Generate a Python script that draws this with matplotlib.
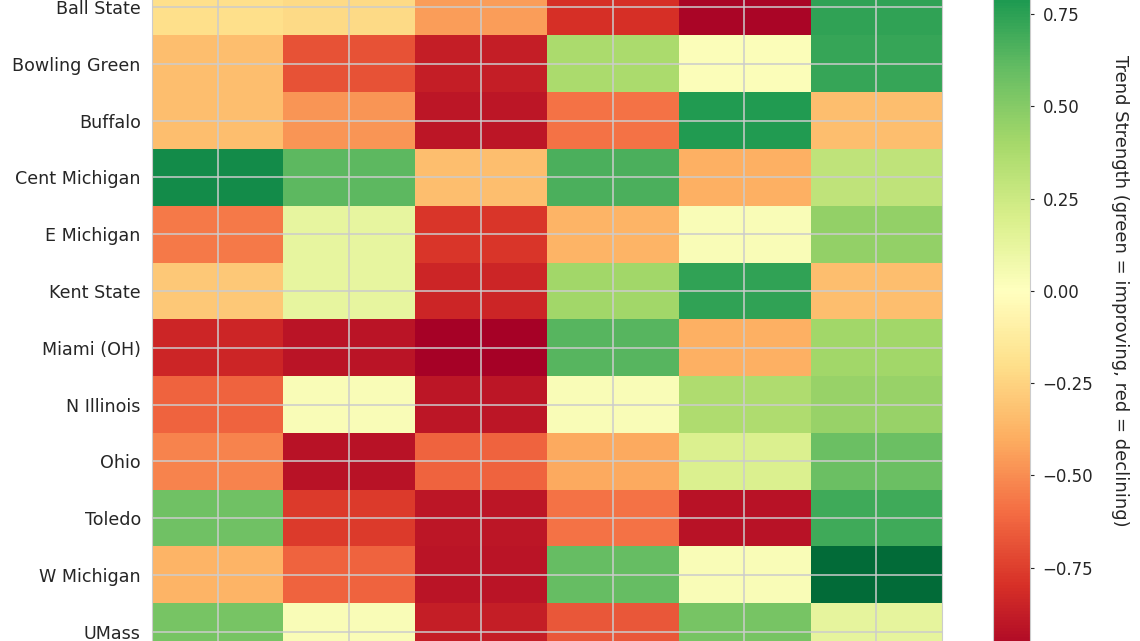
import numpy as np
import matplotlib.pyplot as plt

# MAC programs (rows) and the trend metrics (columns); Akron and the
# metric names sit outside the visible crop of the reference.
teams = ["Akron", "Ball State", "Bowling Green", "Buffalo", "Cent Michigan",
         "E Michigan", "Kent State", "Miami (OH)", "N Illinois", "Ohio",
         "Toledo", "W Michigan", "UMass"]
metrics = ["Win %", "Points For", "Points Against", "Yards/Play",
           "Turnover Margin", "Recruiting"]

trend = np.array([
    [-0.30, -0.45, -0.20, 0.35, -0.60, 0.10],   # Akron
    [-0.20, -0.22, -0.45, -0.80, -0.97, 0.74],  # Ball State
    [-0.33, -0.68, -0.87, 0.38, 0.02, 0.72],    # Bowling Green
    [-0.33, -0.47, -0.90, -0.58, 0.78, -0.33],  # Buffalo
    [0.85, 0.62, -0.33, 0.67, -0.39, 0.30],     # Cent Michigan
    [-0.56, 0.12, -0.78, -0.37, 0.03, 0.46],    # E Michigan
    [-0.29, 0.12, -0.84, 0.41, 0.74, -0.33],    # Kent State
    [-0.84, -0.91, -0.99, 0.64, -0.39, 0.41],   # Miami (OH)
    [-0.63, 0.03, -0.90, 0.03, 0.36, 0.44],     # N Illinois
    [-0.53, -0.92, -0.63, -0.41, 0.18, 0.58],   # Ohio
    [0.57, -0.76, -0.90, -0.58, -0.92, 0.70],   # Toledo
    [-0.37, -0.63, -0.91, 0.60, 0.03, 0.98],    # W Michigan
    [0.54, 0.03, -0.87, -0.67, 0.54, 0.13],     # UMass
])

TEXT = "#262626"
EDGE = "#cccccc"

fig = plt.figure(figsize=(11.4, 6.41), dpi=100)

# heatmap axes deliberately run past the top and bottom of the canvas,
# the metric labels below are out of view just as in the reference crop
ax = fig.add_axes([0.1333, -0.0296, 0.693, 1.1513])
im = ax.imshow(trend, cmap="RdYlGn", vmin=-1, vmax=1, aspect="auto")
ax.set_xticks(range(len(metrics)))
ax.set_yticks(range(len(teams)), teams, fontsize=12.6, color=TEXT)
ax.tick_params(length=0, pad=8, labelbottom=False)
ax.grid(True, color=EDGE, lw=1.1)
for s in ax.spines.values():
    s.set_color(EDGE)

cax = fig.add_axes([0.871, -0.0296, 0.0325, 1.1513])
cb = fig.colorbar(im, cax=cax, ticks=np.arange(-1, 1.01, 0.25))
cb.outline.set_edgecolor(EDGE)
cb.ax.tick_params(labelsize=12, labelcolor=TEXT, color=TEXT, length=3, pad=6)
cb.set_label("Trend Strength (green = improving, red = declining)",
             rotation=270, labelpad=26, fontsize=13, color=TEXT)

fig.savefig("out.png", dpi=100)
